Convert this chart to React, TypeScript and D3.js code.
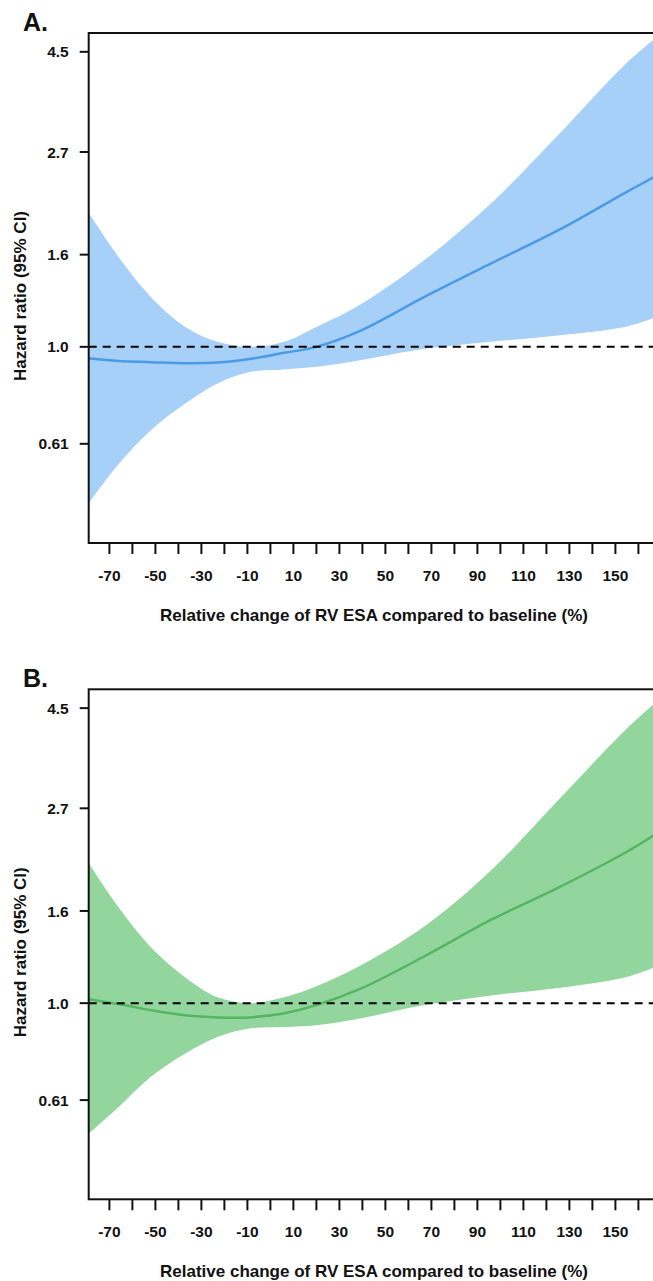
import React from "react";
import * as d3 from "d3";

// Relative change of RV ESA (%) at which the spline estimates are listed
const xValues = [-79, -66, -52, -37, -23, -9, 6, 20, 39, 67, 96, 125, 154, 167];

// Panel A: hazard ratio with 95% confidence band
const hrA = [0.943, 0.93, 0.925, 0.92, 0.923, 0.94, 0.97, 1.0, 1.085, 1.29, 1.53, 1.81, 2.19, 2.38];
const lowerA = [0.45, 0.55, 0.654, 0.749, 0.83, 0.88, 0.891, 0.903, 0.934, 0.99, 1.026, 1.06, 1.107, 1.16];
const upperA = [1.98, 1.58, 1.29, 1.107, 1.026, 1.0, 1.026, 1.107, 1.24, 1.556, 2.08, 2.94, 4.21, 4.8];

// Panel B: hazard ratio with 95% confidence band
const hrB = [1.02, 0.995, 0.965, 0.94, 0.93, 0.93, 0.95, 0.99, 1.075, 1.27, 1.53, 1.8, 2.15, 2.36];
const lowerB = [0.514, 0.589, 0.687, 0.774, 0.842, 0.879, 0.886, 0.894, 0.925, 0.99, 1.04, 1.08, 1.14, 1.2];
const upperB = [2.04, 1.63, 1.33, 1.14, 1.03, 1.0, 1.03, 1.09, 1.21, 1.48, 1.97, 2.81, 4.01, 4.61];

// Axis ticks
const yTicks = [0.61, 1.0, 1.6, 2.7, 4.5];
const yTickLabels = ["0.61", "1.0", "1.6", "2.7", "4.5"];
const xMinorTicks = d3.range(-70, 161, 10);
const xLabelTicks = d3.range(-70, 151, 20);

const FONT = "'Liberation Sans', Arial, Helvetica, sans-serif";

const W = 653;
const H = 1281;

const plotLeft = 88.7;
const plotTop = 33;
const plotBottom = 543;
const xDomain: [number, number] = [-79, 170];
const pxPerUnit = 2.3;

const x = d3
  .scaleLinear()
  .domain(xDomain)
  .range([plotLeft, plotLeft + (xDomain[1] - xDomain[0]) * pxPerUnit]);

const y = d3
  .scaleLog()
  .domain([Math.exp(-1), Math.exp(1.6)])
  .range([plotBottom, plotTop]);

type PanelProps = {
  label: string;
  hr: number[];
  lower: number[];
  upper: number[];
  fill: string;
  stroke: string;
  offsetY: number;
};

function Panel({ label, hr, lower, upper, fill, stroke, offsetY }: PanelProps) {
  const pts = xValues.map((v, i) => ({ v, hr: hr[i], lo: lower[i], hi: upper[i] }));
  const curve = d3.curveCatmullRom.alpha(0.5);
  const area = d3
    .area<(typeof pts)[number]>()
    .x((d) => x(d.v))
    .y0((d) => y(d.lo))
    .y1((d) => y(d.hi))
    .curve(curve);
  const line = d3
    .line<(typeof pts)[number]>()
    .x((d) => x(d.v))
    .y((d) => y(d.hr))
    .curve(curve);

  const right = x(xDomain[1]);
  const clipId = `clip-${label.replace(".", "")}`;

  return (
    <g transform={`translate(0,${offsetY})`}>
      <defs>
        <clipPath id={clipId}>
          <rect x={plotLeft} y={plotTop} width={right - plotLeft} height={plotBottom - plotTop} />
        </clipPath>
      </defs>
      <g clipPath={`url(#${clipId})`}>
        <path d={area(pts) ?? ""} fill={fill} stroke="none" />
        <path d={line(pts) ?? ""} fill="none" stroke={stroke} strokeWidth={2.5} />
        <line
          x1={plotLeft}
          x2={right}
          y1={y(1)}
          y2={y(1)}
          stroke="#000"
          strokeWidth={2}
          strokeDasharray="8,6"
        />
      </g>
      {/* plot frame */}
      <rect
        x={plotLeft}
        y={plotTop}
        width={right - plotLeft}
        height={plotBottom - plotTop}
        fill="none"
        stroke="#111"
        strokeWidth={2}
      />
      {/* y axis */}
      {yTicks.map((t, i) => (
        <g key={`y${t}`}>
          <line x1={plotLeft - 9} x2={plotLeft} y1={y(t)} y2={y(t)} stroke="#111" strokeWidth={2} />
          <text
            x={plotLeft - 20}
            y={y(t)}
            dy="0.36em"
            textAnchor="end"
            fontFamily={FONT}
            fontWeight="bold"
            fontSize={15.5}
            fill="#111"
          >
            {yTickLabels[i]}
          </text>
        </g>
      ))}
      {/* x axis */}
      {xMinorTicks.map((t) => (
        <line key={`xt${t}`} x1={x(t)} x2={x(t)} y1={plotBottom} y2={plotBottom + 11} stroke="#111" strokeWidth={2} />
      ))}
      {xLabelTicks.map((t) => (
        <text
          key={`xl${t}`}
          x={x(t)}
          y={plotBottom + 38}
          textAnchor="middle"
          fontFamily={FONT}
          fontWeight="bold"
          fontSize={15.5}
          fill="#111"
        >
          {t}
        </text>
      ))}
      <text
        x={374}
        y={plotBottom + 78}
        textAnchor="middle"
        fontFamily={FONT}
        fontWeight="bold"
        fontSize={17}
        fill="#111"
      >
        Relative change of RV ESA compared to baseline (%)
      </text>
      <text
        transform={`translate(26,${296}) rotate(-90)`}
        textAnchor="middle"
        fontFamily={FONT}
        fontWeight="bold"
        fontSize={17}
        fill="#111"
      >
        Hazard ratio (95% CI)
      </text>
      <text x={23} y={31} fontFamily={FONT} fontWeight="bold" fontSize={25} fill="#111">
        {label}
      </text>
    </g>
  );
}

export default function App() {
  return (
    <svg
      width={W}
      height={H}
      viewBox={`0 0 ${W} ${H}`}
      style={{ position: "absolute", left: 0, top: 0, background: "#fff" }}
    >
      <rect width={W} height={H} fill="#fff" />
      <Panel label="A." hr={hrA} lower={lowerA} upper={upperA} fill="#a6d0f8" stroke="#4a9ae6" offsetY={0} />
      <Panel label="B." hr={hrB} lower={lowerB} upper={upperB} fill="#93d69d" stroke="#55b560" offsetY={656.3} />
    </svg>
  );
}
